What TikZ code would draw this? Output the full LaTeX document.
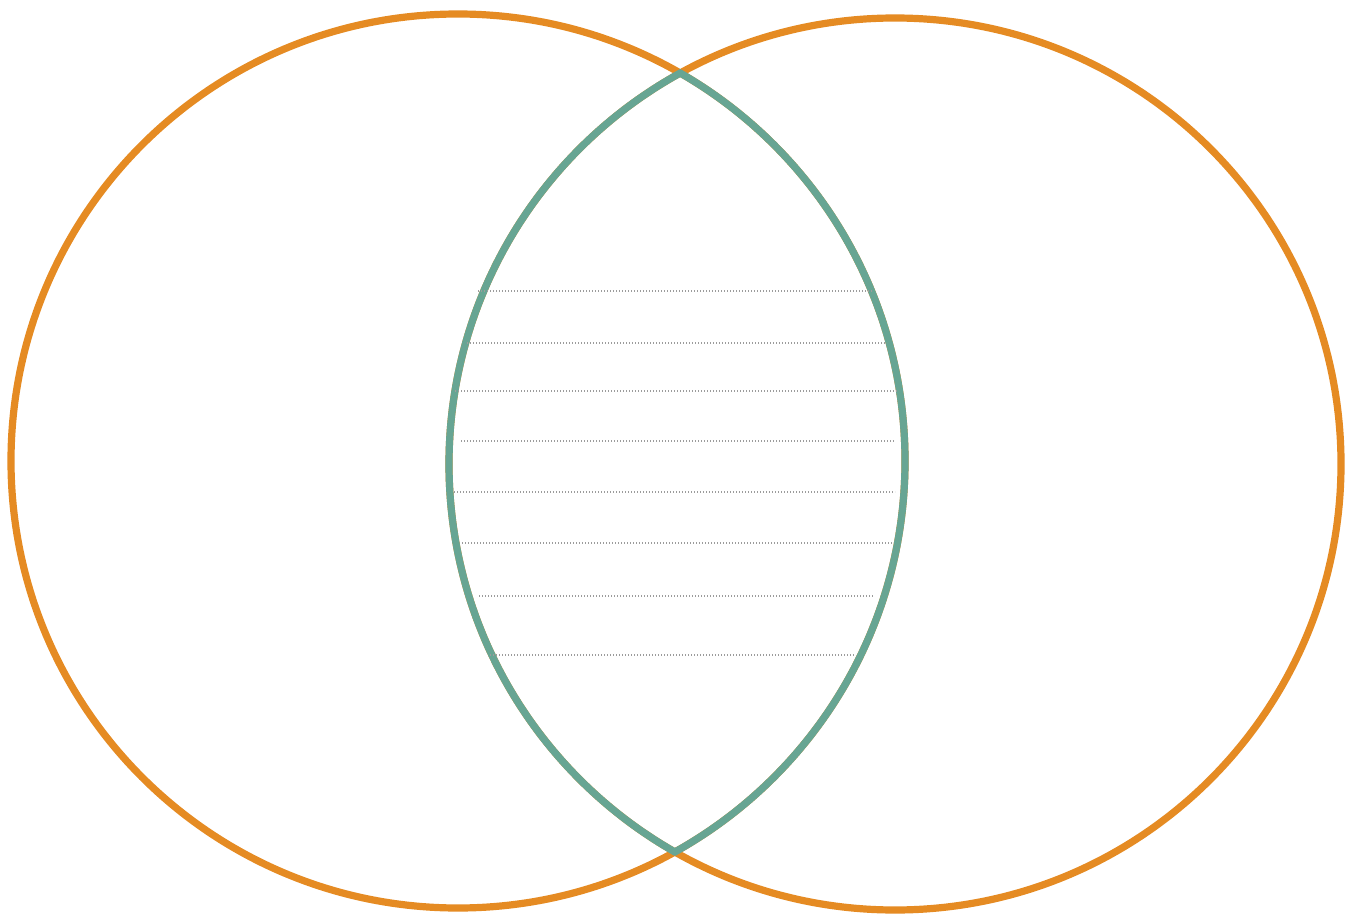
\documentclass[tikz,border=0pt]{standalone}
\usepackage{tikz}

\definecolor{ringorange}{HTML}{E58B23}
\definecolor{lensteal}{HTML}{67A593}
\definecolor{rulegray}{HTML}{9C9C9C}

\begin{document}
\begin{tikzpicture}[
    x=0.5pt,
    y=-0.5pt,
    ring/.style={
        draw=ringorange,
        line width=3.6pt
    },
    lens/.style={
        draw=lensteal,
        line width=3.6pt
    },
    rule/.style={
        draw=rulegray,
        line width=0.55pt,
        dash pattern=on 0.55pt off 0.95pt
    }
]

\useasboundingbox (0,0) rectangle (1352,914);

% Circle centres
\coordinate (leftc) at (458,461);
\coordinate (rightc) at (895,464);

% Outer circles
\draw[ring] (leftc) circle (447);
\draw[ring] (rightc) circle (446);

% Overlap outline (clip a little wider so the full stroke shows)
\begin{scope}
    \clip (rightc) circle (449);
    \draw[lens] (leftc) circle (447);
\end{scope}
\begin{scope}
    \clip (leftc) circle (450);
    \draw[lens] (rightc) circle (446);
\end{scope}

% Writing lines in the overlap
\foreach \y/\xa/\xb in {291/478/873, 343/467/887, 391/455/897, 441/461/895,
                        492/454/895, 543/462/893, 596/479/873, 655/490/855} {
    \draw[rule] (\xa,\y) -- (\xb,\y);
}

\end{tikzpicture}
\end{document}
